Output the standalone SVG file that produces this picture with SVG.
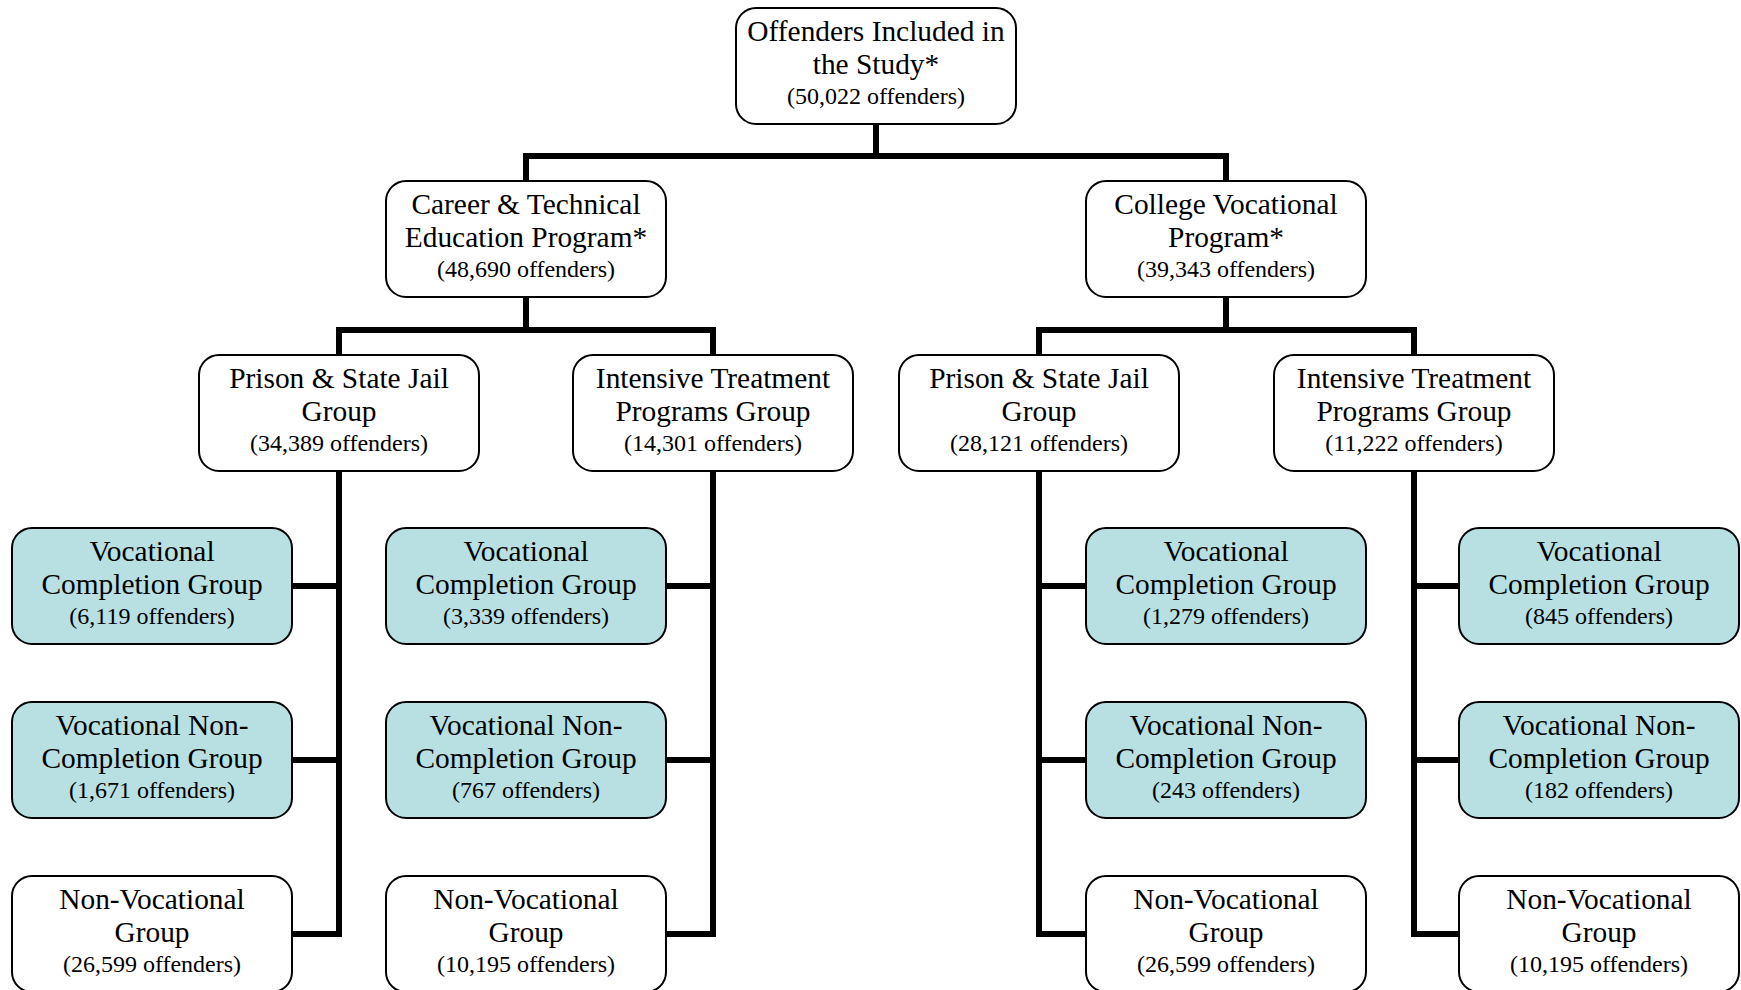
<svg xmlns="http://www.w3.org/2000/svg" width="1741" height="990" viewBox="0 0 1741 990">
<style>
.box{fill:#ffffff;stroke:#000;stroke-width:2}
.hl{fill:#b8e0e3;stroke:#000;stroke-width:2}
.t{font-family:"Liberation Serif","Times New Roman",serif;font-size:29.4px;fill:#000;text-anchor:middle}
.s{font-family:"Liberation Serif","Times New Roman",serif;font-size:24px;fill:#000;text-anchor:middle}
.c{fill:none;stroke:#000;stroke-width:6;stroke-linejoin:miter}
</style>
<rect width="1741" height="990" fill="#fff"/>
<g id="connectors">
<path class="c" d="M876,123 V156"/>
<path class="c" d="M526,181 V156 H1226 V181"/>
<path class="c" d="M526,297 V330"/>
<path class="c" d="M339,355 V330 H713 V355"/>
<path class="c" d="M1226,297 V330"/>
<path class="c" d="M1039,355 V330 H1414 V355"/>
<path class="c" d="M339,471 V934 H292 M292,586 H339 M292,760 H339"/>
<path class="c" d="M713,471 V934 H666 M666,586 H713 M666,760 H713"/>
<path class="c" d="M1039,471 V934 H1086 M1086,586 H1039 M1086,760 H1039"/>
<path class="c" d="M1414,471 V934 H1459 M1459,586 H1414 M1459,760 H1414"/>
</g>
<g id="n_root"><rect class="box" x="736" y="8" width="280" height="116" rx="20"/>
<text class="t" x="876" y="41">Offenders Included in</text><text class="t" x="876" y="74">the Study*</text><text class="s" x="876" y="104">(50,022 offenders)</text></g>
<g id="n_cte"><rect class="box" x="386" y="181" width="280" height="116" rx="20"/>
<text class="t" x="526" y="214">Career &amp; Technical</text><text class="t" x="526" y="247">Education Program*</text><text class="s" x="526" y="277">(48,690 offenders)</text></g>
<g id="n_cvp"><rect class="box" x="1086" y="181" width="280" height="116" rx="20"/>
<text class="t" x="1226" y="214">College Vocational</text><text class="t" x="1226" y="247">Program*</text><text class="s" x="1226" y="277">(39,343 offenders)</text></g>
<g id="n_cte_psj"><rect class="box" x="199" y="355" width="280" height="116" rx="20"/>
<text class="t" x="339" y="388">Prison &amp; State Jail</text><text class="t" x="339" y="421">Group</text><text class="s" x="339" y="451">(34,389 offenders)</text></g>
<g id="n_cte_itp"><rect class="box" x="573" y="355" width="280" height="116" rx="20"/>
<text class="t" x="713" y="388">Intensive Treatment</text><text class="t" x="713" y="421">Programs Group</text><text class="s" x="713" y="451">(14,301 offenders)</text></g>
<g id="n_cvp_psj"><rect class="box" x="899" y="355" width="280" height="116" rx="20"/>
<text class="t" x="1039" y="388">Prison &amp; State Jail</text><text class="t" x="1039" y="421">Group</text><text class="s" x="1039" y="451">(28,121 offenders)</text></g>
<g id="n_cvp_itp"><rect class="box" x="1274" y="355" width="280" height="116" rx="20"/>
<text class="t" x="1414" y="388">Intensive Treatment</text><text class="t" x="1414" y="421">Programs Group</text><text class="s" x="1414" y="451">(11,222 offenders)</text></g>

<g id="n_a_vc"><rect class="hl" x="12" y="528" width="280" height="116" rx="20"/>
<text class="t" x="152" y="561">Vocational</text><text class="t" x="152" y="594">Completion Group</text><text class="s" x="152" y="624">(6,119 offenders)</text></g>
<g id="n_a_vnc"><rect class="hl" x="12" y="702" width="280" height="116" rx="20"/>
<text class="t" x="152" y="735">Vocational Non-</text><text class="t" x="152" y="768">Completion Group</text><text class="s" x="152" y="798">(1,671 offenders)</text></g>
<g id="n_a_nv"><rect class="box" x="12" y="876" width="280" height="116" rx="20"/>
<text class="t" x="152" y="909">Non-Vocational</text><text class="t" x="152" y="942">Group</text><text class="s" x="152" y="972">(26,599 offenders)</text></g>

<g id="n_b_vc"><rect class="hl" x="386" y="528" width="280" height="116" rx="20"/>
<text class="t" x="526" y="561">Vocational</text><text class="t" x="526" y="594">Completion Group</text><text class="s" x="526" y="624">(3,339 offenders)</text></g>
<g id="n_b_vnc"><rect class="hl" x="386" y="702" width="280" height="116" rx="20"/>
<text class="t" x="526" y="735">Vocational Non-</text><text class="t" x="526" y="768">Completion Group</text><text class="s" x="526" y="798">(767 offenders)</text></g>
<g id="n_b_nv"><rect class="box" x="386" y="876" width="280" height="116" rx="20"/>
<text class="t" x="526" y="909">Non-Vocational</text><text class="t" x="526" y="942">Group</text><text class="s" x="526" y="972">(10,195 offenders)</text></g>

<g id="n_c_vc"><rect class="hl" x="1086" y="528" width="280" height="116" rx="20"/>
<text class="t" x="1226" y="561">Vocational</text><text class="t" x="1226" y="594">Completion Group</text><text class="s" x="1226" y="624">(1,279 offenders)</text></g>
<g id="n_c_vnc"><rect class="hl" x="1086" y="702" width="280" height="116" rx="20"/>
<text class="t" x="1226" y="735">Vocational Non-</text><text class="t" x="1226" y="768">Completion Group</text><text class="s" x="1226" y="798">(243 offenders)</text></g>
<g id="n_c_nv"><rect class="box" x="1086" y="876" width="280" height="116" rx="20"/>
<text class="t" x="1226" y="909">Non-Vocational</text><text class="t" x="1226" y="942">Group</text><text class="s" x="1226" y="972">(26,599 offenders)</text></g>

<g id="n_d_vc"><rect class="hl" x="1459" y="528" width="280" height="116" rx="20"/>
<text class="t" x="1599" y="561">Vocational</text><text class="t" x="1599" y="594">Completion Group</text><text class="s" x="1599" y="624">(845 offenders)</text></g>
<g id="n_d_vnc"><rect class="hl" x="1459" y="702" width="280" height="116" rx="20"/>
<text class="t" x="1599" y="735">Vocational Non-</text><text class="t" x="1599" y="768">Completion Group</text><text class="s" x="1599" y="798">(182 offenders)</text></g>
<g id="n_d_nv"><rect class="box" x="1459" y="876" width="280" height="116" rx="20"/>
<text class="t" x="1599" y="909">Non-Vocational</text><text class="t" x="1599" y="942">Group</text><text class="s" x="1599" y="972">(10,195 offenders)</text></g>
</svg>
